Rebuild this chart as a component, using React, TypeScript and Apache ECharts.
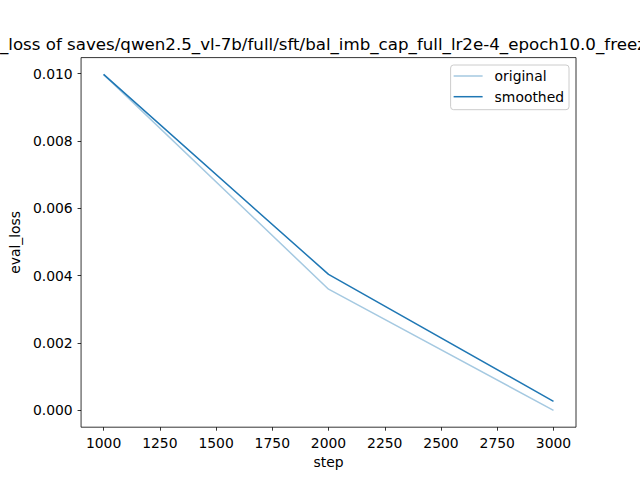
import React, { useEffect, useRef } from "react";
import * as echarts from "echarts";

const steps = [1000, 2000, 3000];
const original = [0.00998, 0.0036, 0.0];
const smoothed = [0.00998, 0.00404, 0.00027];
const xTicks = [1000, 1250, 1500, 1750, 2000, 2250, 2500, 2750, 3000];
const yTicks = [0, 0.002, 0.004, 0.006, 0.008, 0.01];
const titleText =
  "eval_loss of saves/qwen2.5_vl-7b/full/sft/bal_imb_cap_full_lr2e-4_epoch10.0_freeze";

const FONT = "DejaVu Sans";

export default function App() {
  const ref = useRef<HTMLDivElement>(null);
  useEffect(() => {
    if (!ref.current) return;
    const chart = echarts.init(ref.current, null, { renderer: "svg" });
    const pairs = (ys: number[]) => steps.map((s, i) => [s, ys[i]]);
    chart.setOption({
      animation: false,
      backgroundColor: "#ffffff",
      textStyle: { fontFamily: FONT },
      graphic: [
        {
          type: "text",
          x: -35,
          y: 44,
          style: {
            text: titleText,
            fontFamily: FONT,
            fontSize: 16.67,
            fill: "#000",
            align: "left",
            verticalAlign: "middle",
          },
        },
      ],
      legend: {
        orient: "vertical",
        right: 71,
        top: 65,
        padding: [3, 5, 5, 3],
        itemGap: 4.7,
        itemWidth: 29,
        itemHeight: 1.5,
        icon: "rect",
        borderColor: "#cccccc",
        borderWidth: 1,
        borderRadius: 3,
        backgroundColor: "rgba(255,255,255,0.8)",
        textStyle: {
          fontFamily: FONT,
          fontSize: 13.9,
          color: "#000",
          lineHeight: 16,
          padding: [0, 0, 0, 7],
        },
        data: ["original", "smoothed"],
      },
      grid: {
        left: 80,
        right: 64,
        top: 57.6,
        bottom: 52.8,
        show: true,
        borderColor: "#000",
        borderWidth: 0.8,
        backgroundColor: "transparent",
      },
      xAxis: {
        type: "value",
        min: 900,
        max: 3100,
        name: "step",
        nameLocation: "middle",
        nameGap: 28,
        nameTextStyle: { fontFamily: FONT, fontSize: 13.9, color: "#000", verticalAlign: "top" },
        axisLine: { show: false, onZero: false },
        axisTick: {
          show: true,
          length: 3.5,
          lineStyle: { color: "#000", width: 0.8 },
          customValues: xTicks,
        },
        axisLabel: {
          margin: 8.4,
          fontFamily: FONT,
          fontSize: 13.9,
          color: "#000",
          customValues: xTicks,
          formatter: (v: number) => String(v),
        },
        splitLine: { show: false },
      },
      yAxis: {
        type: "value",
        min: -0.000499,
        max: 0.010479,
        name: "eval_loss",
        nameLocation: "middle",
        nameGap: 56,
        nameTextStyle: { fontFamily: FONT, fontSize: 13.9, color: "#000" },
        axisLine: { show: false, onZero: false },
        axisTick: {
          show: true,
          length: 3.5,
          lineStyle: { color: "#000", width: 0.8 },
          customValues: yTicks,
        },
        axisLabel: {
          margin: 8.4,
          fontFamily: FONT,
          fontSize: 13.9,
          color: "#000",
          customValues: yTicks,
          formatter: (v: number) => v.toFixed(3),
        },
        splitLine: { show: false },
      },
      series: [
        {
          name: "original",
          type: "line",
          data: pairs(original),
          showSymbol: false,
          symbol: "none",
          color: "#a5c9e1",
          lineStyle: { width: 1.5, color: "#a5c9e1" },
        },
        {
          name: "smoothed",
          type: "line",
          data: pairs(smoothed),
          showSymbol: false,
          symbol: "none",
          color: "#1f77b4",
          lineStyle: { width: 1.5, color: "#1f77b4" },
        },
      ],
    });
    return () => chart.dispose();
  }, []);
  return (
    <div
      ref={ref}
      style={{ position: "absolute", left: 0, top: 0, width: 640, height: 480 }}
    />
  );
}
